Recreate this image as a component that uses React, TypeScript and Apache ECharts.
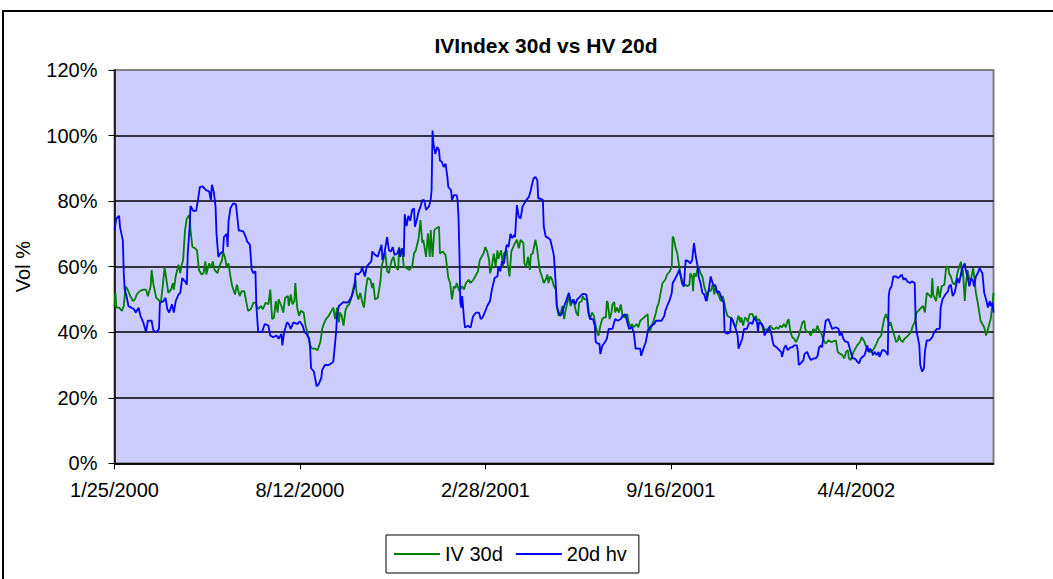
import React, { useEffect, useRef } from "react";
import * as echarts from "echarts";

const titleText = "IVIndex 30d vs HV 20d";
const yAxisName = "Vol %";
const seriesNames = ["IV 30d", "20d hv"];
const startDateUTC = Date.UTC(2000, 0, 25);
const xTickDays = [0, 200, 400, 600, 800];
const xMaxDay = 948;
const yTicks = [0, 20, 40, 60, 80, 100, 120];

// [day offset from 1/25/2000, vol %]
const ivData: [number, number][] = [
  [0,48],[1,52],[2,47.5],[5,47.5],[8,46.5],[10,48],[12,54],[15,52.5],[17,51],[20,49.5],[22,50],[24,51.5],[27,52.5],[31,53],[34,53],[36,51],[39,54],[40,59],[42,54.5],[45,50.5],[47,50],[50,49],[52,54],[54,59.6],[55,58],[58,52],[61,53],[63,55],[64,53],[66,57],[69,60.6],[71,58],[72,60],[74,62],[76,71],[78,74.7],[81,75.8],[82,71],[84,66],[87,65.6],[89,65],[91,59],[94,57.6],[96,58],[98,61.6],[99,57.6],[102,61],[104,59.6],[106,61.6],[108,59],[111,58],[113,60],[116,62],[117,64.6],[119,63],[121,60],[123,61],[125,57],[127,54],[130,51.5],[132,54.5],[135,51],[137,52.5],[140,52.5],[142,49.5],[144,46.5],[147,47],[150,49],
  [152,49],[155,47],[158,48],[160,47],[163,49],[166,48.5],[168,53],[170,44],[172,44.5],[174,49.5],[176,46],[177,50],[180,48],[182,46],[184,50.5],[187,51],[188,48],[190,51.5],[192,48.5],[194,49.5],[195,55],[197,47.5],[199,45],[201,46.5],[204,46],[206,42],[208,40],[211,36],[213,35],[216,35],[219,34.5],[222,37],[224,41],[225,42],[228,44],[231,45],[234,46.5],[236,47.5],[238,44],[240,47.5],[242,43],[243,46],[245,45],[247,42],[249,46.5],[251,48],[253,48.5],[255,50],[258,54],[260,56],[261,52],[263,50],[265,52],[267,49.5],[269,47.5],[271,53],[273,56.6],[276,56],[278,53.5],[279,55],[281,50],[284,50.5],[287,56],[288,60],[290,62],[292,64.6],[294,58.6],[296,58],[297,59.6],[299,62],[301,63],[303,60],[306,59],[307,66],
  [308,64],[310,65.6],[312,60],[315,59.6],[318,59],[321,60],[323,64],[325,65],[328,68.7],[330,74.2],[332,67.2],[333,68.2],[336,63],[338,70.2],[340,63],[341,71.2],[343,63],[345,71.2],[347,71.7],[350,72.2],[351,64],[354,64.6],[357,63.6],[359,59],[360,56.6],[362,55],[364,50],[366,54],[368,53.5],[369,55],[372,52.5],[375,54],[377,53],[379,55],[382,56],[384,55],[387,56],[389,57],[392,58.6],[394,62],[396,63],[398,64],[400,66],[402,64.6],[404,62],[405,58],[407,60],[409,64],[411,60],[413,65],[414,62.4],[417,65],[419,60],[420,64],[423,65],[424,61],[426,57],[428,64.6],[430,66],[431,66.7],[434,68.2],[436,65.6],[438,68.2],[441,67.2],[442,61],[444,60],[446,63],[448,59],[449,63.6],[451,64],[454,68.2],[456,65],[458,60],[459,58.6],[461,57],[463,55],
  [465,56],[467,57.6],[468,55],[470,57],[472,56],[474,54],[476,53],[477,48],[479,45],[481,45.5],[483,48],[485,44],[486,46],[488,48.5],[490,51],[492,48],[494,50],[496,48.5],[498,46],[500,45],[501,49],[504,49.5],[505,51],[507,50],[510,50],[512,45],[513,44],[515,46],[517,45],[519,42],[521,39.5],[522,39],[524,42],[526,44],[528,44.5],[530,44.5],[531,49.5],[532,49],[534,44],[536,46],[537,48.5],[539,49.2],[540,46],[542,47.5],[544,46],[546,48.5],[548,45],[550,44.5],[553,45.5],[555,42.5],[557,41.5],[558,42.5],[560,41.5],[563,42.5],[565,41.5],[567,43.5],[569,44],[571,44.5],[573,45],[575,45.5],[576,40],[577,40],[579,41.5],[582,44],[584,46],[585,47.5],[587,49],[589,52],[591,55],[594,56],[596,57.6],[599,58.6],[601,60],[602,69.2],[603,68.7],[605,66],[607,64],[609,60],[611,57],[612,56],[614,54],[616,54.5],[618,54],[620,54.5],
  [621,58],[623,57],[624,52.5],[625,58],[627,57],[629,59.6],[630,60],[632,58],[634,57],[636,54],[638,52],[639,49.5],[641,53],[643,52.5],[645,54.5],[647,51.5],[648,54],[650,52],[652,51],[654,49.5],[656,51],[657,50],[659,47],[661,45],[664,44.5],[666,44],[668,42.5],[670,41.5],[672,44],[673,45],[675,43],[676,44.5],[678,42],[680,44.5],[682,44],[683,43],[685,45.5],[688,45.5],[690,44],[692,45],[693,43.5],[695,44],[697,43],[699,41.5],[700,40],[702,41],[705,40.5],[707,42],[710,41],[712,41],[714,41.5],[716,41],[718,42],[720,41.5],[722,42.5],[724,41.5],[726,43.5],[727,44],[729,40],[731,38.5],[733,38],[735,37],[736,37.5],[738,39],[740,41],[742,43],[744,43.5],[745,41],[747,40],[749,40],[751,39],[753,40.5],[754,41],[756,40],[758,42],[760,40.5],[762,40],[763,39],[765,37.5],[767,36.5],[770,37.5],[773,37],[775,37.2],
  [778,37.5],[780,34],[782,33.5],[785,33],[787,32],[789,34],[791,34.5],[792,32],[794,31.5],[797,34],[799,35],[801,36],[804,37],[806,38.5],[809,37],[810,36],[812,35],[814,34],[817,34],[819,35],[821,36],[824,38],[827,39],[828,41],[830,44],[832,45.5],[834,44],[836,42],[837,43],[839,41],[841,39],[843,37],[845,37.5],[846,39],[848,37.5],[850,37],[852,38],[854,38.5],[856,39],[859,40],[861,42],[863,43],[865,46],[867,46.5],[870,47.5],[872,48],[874,46],[876,52],[878,51.5],[881,50.5],[882,56.5],[883,51.5],[886,49.5],[888,54],[890,50.5],[892,54],[895,54.5],[897,60],[899,60],[900,58],[902,57],[904,55],[906,54.5],[908,56],[909,58],[911,60],[913,61.5],[914,57],[915,59],[917,49.5],[918,54],[920,59],[922,56],[924,56.5],[926,59.5],[927,57.5],[929,52],[931,49],[933,45.5],[934,43.5],[936,42.5],[938,41.5],[940,39],[942,41],[944,43],[945,44],[947,49],[948,52],
];

const hvData: [number, number][] = [
  [0,71.2],[2,74.7],[5,75.5],[6,72],[9,68],[10,58],[11,53],[13,51],[15,48],[18,47.5],[21,47],[23,46],[26,47.5],[28,45],[31,43],[34,40],[36,43.5],[40,43.5],[42,40.5],[45,40],[48,41],[49,49],[53,49.5],[55,50.5],[57,47],[59,46],[62,48.5],[64,46],[66,49.5],[69,51.5],[71,52],[73,56.5],[76,55.5],[78,54.5],[79,64],[81,72],[82,78.5],[85,77],[88,77],[90,80.3],[92,84.3],[95,84.5],[99,83.3],[102,83],[104,80.3],[105,85],[107,83],[109,78.3],[110,70],[112,63],[114,64],[117,64.6],[118,69],[121,70],[122,66],[123,74],[125,77.8],[128,79.3],[131,79],[134,71],[136,71],[139,70.7],[142,68.7],[143,67.7],[146,66.7],[148,59],[150,58],
  [152,58.6],[153,48],[155,40],[159,40],[162,42.5],[166,42],[168,39],[171,38.5],[175,39],[177,38],[180,39.5],[181,36],[183,40],[186,43],[188,42.5],[190,41],[193,43],[197,42.5],[200,43.3],[203,42],[205,40],[207,39.5],[210,38],[211,35],[212,29],[215,28],[216,26.5],[218,23.5],[220,24],[223,26],[224,28.5],[227,30],[231,30],[234,30.5],[236,31],[237,34],[239,40],[240,45],[242,48],[244,48.5],[247,49.2],[251,49],[253,49.5],[256,51],[259,54],[260,58],[263,57.6],[266,58.6],[267,60],[270,57],[272,60],[275,61],[277,61.6],[278,64.6],[281,63.6],[284,63],[285,64],[288,66.7],[289,62],[291,64],[294,69],[296,65],[298,64.6],[300,66],[302,63.6],[305,64],[307,65.6],
  [308,63],[311,65.6],[312,63],[313,76],[315,72.4],[317,75.5],[319,74],[321,77.3],[323,77.8],[324,72.2],[326,74.2],[328,76.8],[330,78.3],[332,80.3],[334,80.3],[336,77.3],[339,78.3],[341,80.3],[342,83.3],[343,101.5],[344,97.5],[346,94.4],[348,96.5],[350,95.5],[351,92.4],[353,92],[355,90.4],[357,91.4],[359,87.4],[360,84.3],[363,83.3],[364,80.3],[366,81.8],[369,81.8],[370,80.3],[371,75.2],[372,64],[373,49],[374,47.5],[375,51],[376,47.5],[377,44],[378,41.4],[381,42],[384,41.4],[386,44],[387,45],[390,46],[393,46],[395,44],[397,44.5],[400,46.5],[402,48],[405,49.5],[407,53],[410,56.6],[413,57],[414,60],[416,58.6],[418,61.6],[420,61],[422,65],[423,66.7],[425,66],[427,70],[429,68.7],[431,69.7],[432,69],[434,78.8],[436,75.2],[438,74.7],[440,78.3],[442,79.3],[444,80.3],[447,81.3],[449,83.3],[450,84.8],[452,86.9],[454,87.4],[456,86.4],[457,80.8],[459,80.8],[462,80.3],[463,72.2],
  [465,69.2],[468,68.7],[470,68.2],[473,64.6],[474,63],[476,54],[477,48],[479,46],[481,45],[483,46],[485,48],[487,49.5],[490,52],[492,49.5],[494,49],[495,50],[497,48.5],[499,50],[501,50.5],[504,51.5],[506,51.7],[509,51.5],[511,46],[513,44],[516,44],[518,42],[519,37],[521,36.5],[523,36.5],[524,33.3],[526,35.8],[529,37],[531,38],[533,41],[535,41],[537,41],[539,43],[540,44],[543,43.5],[546,44],[548,45],[551,45.5],[553,43],[555,41],[558,41.5],[560,40],[562,35],[565,35],[567,35],[568,32.8],[571,35.4],[573,37],[575,40],[576,41],[579,42],[582,42.5],[584,43.5],[587,43.5],[590,43.5],[593,45],[594,46.5],[596,48],[599,50],[601,52],[602,55],[604,56],[607,57.6],[609,59],[611,56.6],[612,55],[614,54],[616,62],[619,61.6],
  [621,61],[623,62],[625,67.2],[627,63],[629,60],[630,57],[632,55],[634,52],[636,51.5],[638,49.5],[639,51],[641,53],[643,57],[645,55],[647,54],[648,54.5],[650,52],[652,52.5],[654,51],[656,49.5],[657,49],[658,40],[661,39.5],[664,40],[665,44.5],[667,43.5],[670,41],[672,39],[673,35],[675,36.5],[677,38],[679,41],[682,41],[684,42.5],[686,43],[688,42.5],[690,44.5],[693,43],[694,40],[695,43],[698,42.5],[700,41.5],[701,39],[703,40],[706,41.5],[708,40],[710,37],[711,36],[714,35.4],[717,34.5],[719,34],[720,32.5],[722,35],[724,36],[726,34.5],[729,35.4],[731,35.4],[733,36],[736,36],[737,34],[738,30],[740,30.5],[743,31.5],[744,33.3],[747,34],[749,32.5],[751,31.5],[754,32],[756,32],[758,32.5],[760,35.4],[762,36],[763,35.4],[765,39],[767,43.5],[770,44],[772,42.5],[774,41],
  [778,41.5],[781,41],[782,39],[784,40],[786,38],[788,37.2],[791,37],[792,36],[794,34],[796,32],[798,32],[800,31.5],[801,31],[803,30.5],[805,32],[807,32.5],[809,33],[810,34],[812,36],[813,34],[815,35],[817,34],[818,33],[820,34],[822,33],[824,34],[825,32.5],[828,34.5],[830,34.5],[832,34],[834,33],[835,51],[836,53],[838,54],[840,57],[843,57],[845,56.5],[847,57],[849,57.6],[851,56],[853,56.5],[855,55.5],[858,55],[860,55.5],[863,55],[864,44],[865,40],[866,39],[868,36],[869,30],[871,28],[873,29],[874,34],[876,37.5],[879,37.5],[882,38.5],[884,40],[887,41],[890,41],[891,47.5],[893,50],[896,51.5],[899,52.5],[900,54],[902,54.5],[904,51],[906,52],[908,54.5],[909,56.5],[911,55],[913,58],[915,60],[917,61],[918,59],[920,57],[922,54],[924,56.5],[926,55.5],[927,54],[929,57],[931,58],[933,59.5],[934,59],[936,58],[938,52],[940,50],[942,47.5],[944,49.5],[945,48],[947,49],[948,46],
];

const FONT = "'Liberation Sans', Arial, Helvetica, sans-serif";

function dayLabel(v: number): string {
  const d = new Date(startDateUTC + Math.round(v) * 86400000);
  return `${d.getUTCMonth() + 1}/${d.getUTCDate()}/${d.getUTCFullYear()}`;
}

export default function App() {
  const ref = useRef<HTMLDivElement>(null);
  useEffect(() => {
    if (!ref.current) return;
    const chart = echarts.init(ref.current, null, { renderer: "svg" });
    chart.setOption({
      animation: false,
      backgroundColor: "#ffffff",
      textStyle: { fontFamily: FONT },
      graphic: [
        {
          type: "rect",
          z: -10,
          silent: true,
          shape: { x: 3, y: 11, width: 1070, height: 600 },
          style: { fill: "none", stroke: "#000000", lineWidth: 2 },
        },
      ],
      title: {
        text: titleText,
        left: 541,
        top: 30,
        textAlign: "center",
        textStyle: { fontFamily: FONT, fontSize: 21, fontWeight: "bold", color: "#000" },
      },
      legend: {
        left: 386,
        top: 535,
        padding: [9, 12, 9, 8],
        itemGap: 13,
        itemWidth: 46,
        itemHeight: 2,
        icon: "rect",
        borderColor: "#000",
        borderWidth: 1,
        backgroundColor: "#ffffff",
        textStyle: { fontFamily: FONT, fontSize: 20, color: "#000" },
        data: seriesNames.map((n) => ({ name: n, icon: "rect" })),
      },
      grid: {
        left: 114.5,
        top: 70,
        right: 59.5,
        bottom: 115.7,
        show: true,
        backgroundColor: "#CCCCFF",
        borderColor: "#808080",
        borderWidth: 2,
      },
      xAxis: {
        type: "value",
        min: 0,
        max: xMaxDay,
        interval: 200,
        axisLine: { show: true, onZero: false, lineStyle: { color: "#000", width: 1.5 } },
        axisTick: { show: true, length: 6, customValues: xTickDays, lineStyle: { color: "#000", width: 1 } },
        axisLabel: {
          customValues: xTickDays,
          formatter: (v: number) => dayLabel(v),
          fontFamily: FONT,
          fontSize: 20,
          color: "#000",
          margin: 17,
        },
        splitLine: { show: false },
      },
      yAxis: {
        type: "value",
        min: 0,
        max: 120,
        interval: 20,
        name: yAxisName,
        nameLocation: "middle",
        nameRotate: 90,
        nameGap: 82,
        nameTextStyle: { fontFamily: FONT, fontSize: 20, color: "#000" },
        axisLine: { show: true, lineStyle: { color: "#000", width: 1.5 } },
        axisTick: { show: true, length: 6, lineStyle: { color: "#000", width: 1 } },
        axisLabel: {
          formatter: (v: number) => `${v}%`,
          fontFamily: FONT,
          fontSize: 20,
          color: "#000",
          margin: 17,
        },
        splitLine: {
          show: true,
          lineStyle: {
            color: yTicks.map((t) => (t === 120 ? "#808080" : "#000000")),
            width: 1.5,
          },
        },
      },
      series: [
        {
          name: seriesNames[0],
          type: "line",
          data: ivData,
          symbol: "none",
          showSymbol: false,
          lineStyle: { color: "#008000", width: 1.8 },
          itemStyle: { color: "#008000" },
          z: 2,
        },
        {
          name: seriesNames[1],
          type: "line",
          data: hvData,
          symbol: "none",
          showSymbol: false,
          lineStyle: { color: "#0000FF", width: 1.8 },
          itemStyle: { color: "#0000FF" },
          z: 3,
        },
      ],
    });
    return () => chart.dispose();
  }, []);
  return (
    <div
      ref={ref}
      style={{ position: "fixed", left: 0, top: 0, width: 1053, height: 579 }}
    />
  );
}
